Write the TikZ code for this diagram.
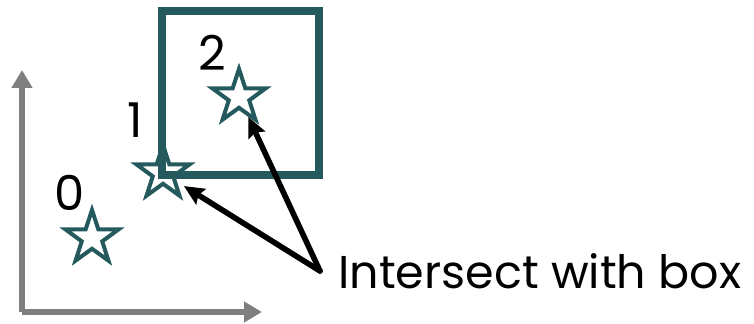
\documentclass[tikz,border=0pt]{standalone}
\usepackage{fontspec}
\setmainfont{Poppins}
\usetikzlibrary{shapes.geometric, arrows.meta, positioning}

\definecolor{deepteal}{HTML}{245A5E}
\definecolor{axisgray}{HTML}{808080}

\begin{document}
\begin{tikzpicture}[
    x=0.5pt, y=-0.5pt,
    starmark/.style={
        star, star points=5, star point ratio=2.6,
        minimum size=28pt, inner sep=0pt,
        draw=deepteal, line width=2pt
    },
    num/.style={font=\fontsize{24}{26}\selectfont, inner sep=0pt},
    querybox/.style={
        draw=deepteal, line width=4pt, rectangle,
        minimum width=78.5pt, minimum height=82pt, inner sep=0pt
    },
    axis/.style={draw=axisgray, line width=3pt,
        -{Triangle[length=9pt, width=10pt]}},
    arr/.style={line width=2.8pt, line cap=round,
        -{Stealth[length=10pt, width=9pt, inset=1.5pt]}}
]
\useasboundingbox (0,0) rectangle (754,324);

% axes
\coordinate (origin) at (22,312);
\coordinate (ytop)   at (22,70);
\coordinate (xend)   at (262,312);
\draw[axis] (origin) -- (ytop);
\draw[axis] (origin) -- (xend);

% query box
\node[querybox] (box) at (240.5,93) {};

% points
\node[starmark] (s0) at (92,238)  {};
\node[starmark] (s1) at (163,173) {};
\node[starmark] (s2) at (239,97)  {};

\node[num] (n0) at (70,193)  {0};
\node[num] (n1) at (135,120) {1};
\node[num] (n2) at (212,53)  {2};

% annotation
\node[anchor=west, inner xsep=9pt, inner ysep=0pt,
      font=\fontsize{23}{25}\selectfont] (note) at (320,271) {Intersect with box};

\draw[arr, shorten >=4pt] (note.west) -- (s1);
\draw[arr] (note.west) -- (s2);

\end{tikzpicture}
\end{document}
